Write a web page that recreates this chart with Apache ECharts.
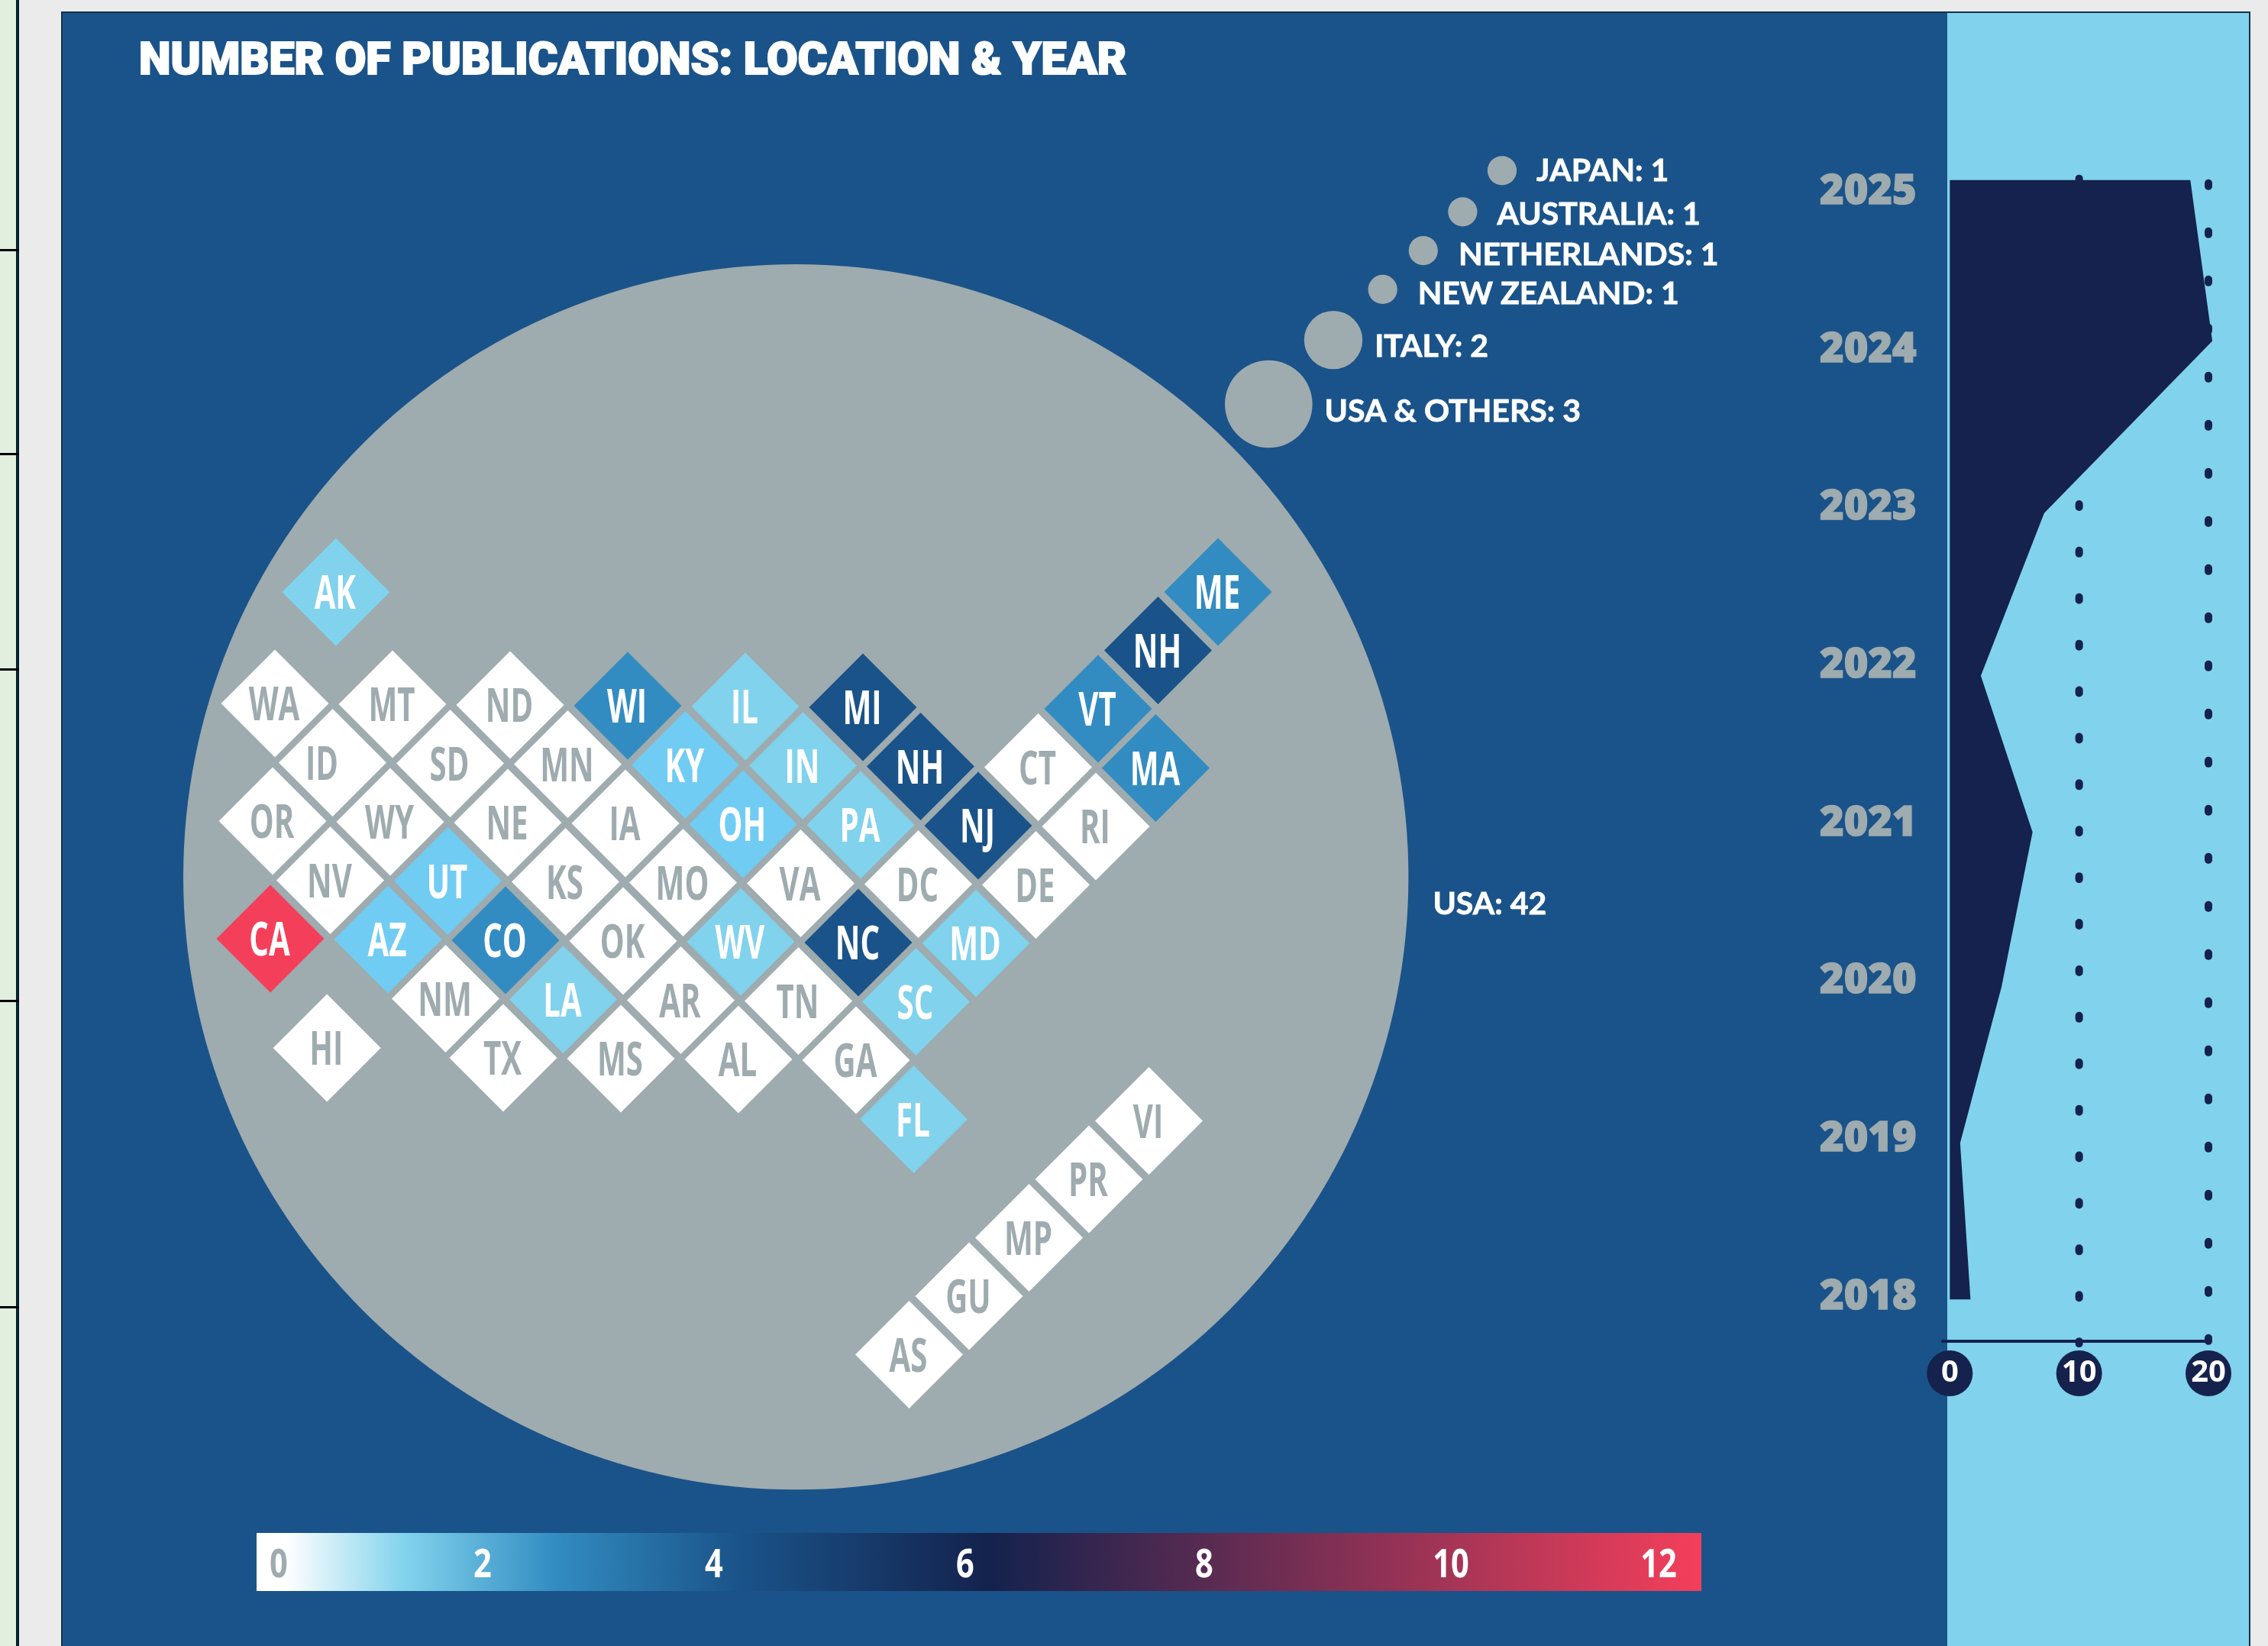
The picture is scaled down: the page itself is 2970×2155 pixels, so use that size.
<!DOCTYPE html>
<html>
<head>
<meta charset="utf-8">
<style>
  html, body { margin: 0; padding: 0; background: #ebebeb; }
  #main { width: 2970px; height: 2155px; }
</style>
<script src="https://cdn.jsdelivr.net/npm/echarts@6/dist/echarts.min.js"></script>
</head>
<body>
<div id="main"></div>
<script>
// tile map: state, publications, lattice column and row
var stateNames = ['AK','WA','MT','ND','WI','IL','MI','VT','ID','SD','MN','KY','IN','NH','CT','MA',
  'OR','WY','NE','IA','OH','PA','NJ','RI','NV','UT','KS','MO','VA','DC','DE',
  'CA','AZ','CO','OK','WV','NC','MD','NM','LA','AR','TN','SC','HI','TX','MS','AL','GA','FL',
  'NH','ME','VI','PR','MP','GU','AS'];
var stateCounts = [1,0,0,0,3,1,4,3,0,0,0,2,1,4,0,3,
  0,0,0,0,2,1,4,0,0,2,0,0,0,0,0,
  12,2,3,0,1,4,1,0,1,0,0,1,0,0,0,0,0,1,
  4,3,0,0,0,0,0];
var stateCols = [1,0,2,4,6,8,10,14,1,3,5,7,9,11,13,15,
  0,2,4,6,8,10,12,14,1,3,5,7,9,11,13,
  0,2,4,6,8,10,12,3,5,7,9,11,1,4,6,8,10,11,
  15,16,15,14,13,12,11];
var stateRows = [-1.9,0,0,0,0,0,0,0,1,1,1,1,1,1,1,1,
  2,2,2,2,2,2,2,2,3,3,3,3,3,3,3,
  4,4,4,4,4,4,4,5,5,5,5,5,5.85,6,6,6,6,7,
  -1,-2,7,8,9,10,11];

// other countries and the USA, diameter goes with the count
var placeNames = ['USA','JAPAN','AUSTRALIA','NETHERLANDS','NEW ZEALAND','ITALY','USA & OTHERS'];
var placeCounts = [42,1,1,1,1,2,3];
var placeCols = [8.86,20.87,20.2,19.53,18.84,18.0,16.9];
var placeRows = [2.95,-9.06,-8.36,-7.7,-7.04,-6.18,-5.09];

// publications per year
var yearTicks = [2018,2019,2020,2021,2022,2023,2024,2025];
var pubYears = [2025.05,2024.03,2022.94,2021.91,2020.92,2019.94,2018.95,2017.96];
var pubCounts = [18.6,20.3,7.3,2.4,6.4,4.0,0.8,1.6];
var countTicks = [0,10,20];

var legendTicks = [0,2,4,6,8,10,12];

var NAVY = '#1a5389', SKY = '#81d2ec', DARK = '#14224d', GREY = '#9eabaf', RED = '#f43f5b';
var TILT_X = 0.0195, TILT_Y = 0.0065;
var DIAMETER = 38.2;

var labelGaps = [32,26,26,27,27,16,16];
var labelDrops = [36,0,4,6,6,9,10];
var legendTickX = [365,632,935,1264,1577,1900,2172];

var tiles = stateNames.map(function (name, i) {
  return {
    name: name,
    value: [stateCols[i] - TILT_X * stateRows[i], stateRows[i] + TILT_Y * stateCols[i], stateCounts[i]]
  };
});

var places = placeNames.map(function (name, i) {
  return {
    name: name,
    value: [placeCols[i], placeRows[i], placeCounts[i]],
    label: {distance: labelGaps[i], offset: [0, labelDrops[i]]}
  };
});

var backdrop = [
  {type: 'rect', z: -10, shape: {x: 0, y: 0, width: 21, height: 2155}, style: {fill: '#e2efdf'}},
  {type: 'rect', z: -9, shape: {x: 21, y: 0, width: 4, height: 2155}, style: {fill: '#04202c'}},
  {type: 'rect', z: -10, shape: {x: 81, y: 16, width: 2469, height: 2145}, style: {fill: NAVY}},
  {type: 'rect', z: -10, shape: {x: 2550, y: 16, width: 396, height: 2145}, style: {fill: SKY}},
  {type: 'rect', z: -9, shape: {x: 81, y: 16, width: 2865, height: 2145}, style: {fill: 'none', stroke: '#12344a', lineWidth: 2}},
  {
    type: 'rect', z: 1,
    shape: {x: 336, y: 2007, width: 1892, height: 76},
    style: {
      fill: new echarts.graphic.LinearGradient(0, 0, 1, 0, [
        {offset: 0.02, color: '#ffffff'},
        {offset: 0.103, color: SKY},
        {offset: 0.207, color: '#328cc1'},
        {offset: 0.334, color: NAVY},
        {offset: 0.507, color: DARK},
        {offset: 1, color: RED}
      ])
    }
  }
];
[326,593,875,1309,1710].forEach(function (y) {
  backdrop.push({type: 'rect', z: -9, shape: {x: 0, y: y, width: 25, height: 3}, style: {fill: '#000'}});
});
legendTicks.forEach(function (t, i) {
  backdrop.push({
    type: 'text', z: 5, x: legendTickX[i], y: 2050, scaleX: 0.8,
    style: {
      text: String(t),
      fill: i === 0 ? GREY : '#fff',
      font: '700 52px "Open Sans"',
      textAlign: 'center', textVerticalAlign: 'middle'
    }
  });
});

var chart = echarts.init(document.getElementById('main'));
chart.setOption({
  animation: false,
  backgroundColor: '#ebebeb',
  title: {
    text: 'NUMBER OF PUBLICATIONS: LOCATION & YEAR',
    left: 182, top: 53,
    padding: 0,
    textStyle: {color: '#fff', fontFamily: 'Roboto', fontWeight: 900, fontSize: 59, textBorderColor: '#fff', textBorderWidth: 2}
  },
  graphic: {elements: backdrop},
  grid: [
    {left: 52, top: 74, width: 2618, height: 2002},
    {left: 2544, top: 226, width: 348, height: 1530}
  ],
  xAxis: [
    {gridIndex: 0, type: 'value', min: -4, max: 30, show: false},
    {
      gridIndex: 1, type: 'value', min: -0.55, max: 20,
      splitLine: {show: false},
      axisTick: {show: false},
      axisLine: {show: true, lineStyle: {color: DARK, width: 4}},
      axisLabel: {
        customValues: countTicks,
        margin: 11,
        formatter: function (v) { return '{dot|' + v + '}'; },
        rich: {
          dot: {
            width: 60, height: 60, lineHeight: 62, align: 'center',
            backgroundColor: DARK, borderRadius: 30,
            color: '#fff', fontFamily: 'Open Sans', fontWeight: 700, fontSize: 40
          }
        }
      }
    }
  ],
  yAxis: [
    {gridIndex: 0, type: 'value', inverse: true, min: -11, max: 15, show: false},
    {
      gridIndex: 1, type: 'value', min: 2017.695, max: 2025.097,
      splitLine: {show: false},
      axisTick: {show: false},
      axisLine: {show: false},
      axisLabel: {
        customValues: yearTicks,
        align: 'left',
        verticalAlign: 'top',
        lineHeight: 11,
        margin: 161,
        color: GREY,
        fontFamily: 'Open Sans', fontWeight: 800, fontSize: 54,
        textBorderColor: GREY, textBorderWidth: 1.5,
        formatter: function (v) { return String(v); }
      }
    }
  ],
  visualMap: {
    type: 'piecewise', show: false, seriesIndex: 1, dimension: 2,
    pieces: [
      {value: 0, color: '#ffffff'},
      {value: 1, color: SKY},
      {value: 2, color: '#70ccf3'},
      {value: 3, color: '#328cc1'},
      {value: 4, color: NAVY},
      {value: 12, color: RED}
    ]
  },
  series: [
    {
      type: 'scatter', name: 'places', xAxisIndex: 0, yAxisIndex: 0, z: 2,
      clip: false,
      data: places,
      symbolSize: function (v) { return v[2] * DIAMETER; },
      itemStyle: {color: GREY, opacity: 1},
      label: {
        show: true, position: 'right', color: '#fff',
        fontFamily: 'Lato', fontWeight: 700, fontSize: 41,
        textBorderColor: '#fff', textBorderWidth: 0.8,
        formatter: function (p) { return p.name + ': ' + p.value[2]; }
      }
    },
    {
      type: 'scatter', name: 'states', xAxisIndex: 0, yAxisIndex: 0, z: 3,
      clip: false,
      data: tiles,
      symbol: 'diamond',
      symbolSize: 141,
      itemStyle: {opacity: 1}
    },
    // state codes are squeezed sideways, no narrow font is installed
    {
      type: 'custom', name: 'stateCodes', xAxisIndex: 0, yAxisIndex: 0, z: 4,
      clip: false,
      data: tiles,
      encode: {x: 0, y: 1},
      renderItem: function (params, api) {
        var i = params.dataIndex;
        var p = api.coord([api.value(0), api.value(1)]);
        return {
          type: 'text',
          x: p[0] - (stateNames[i] === 'ID' ? 14 : 1),
          y: p[1] + 5,
          scaleX: 0.67,
          style: {
            text: stateNames[i],
            fill: stateCounts[i] === 0 ? GREY : '#fff',
            font: '700 60px "Open Sans"',
            textAlign: 'center',
            textVerticalAlign: 'middle'
          }
        };
      }
    },
    {
      type: 'line', xAxisIndex: 1, yAxisIndex: 1, z: 2, symbol: 'none', clip: false,
      data: [[10, 2025.06], [10, 2017.68]],
      lineStyle: {color: DARK, width: 10, cap: 'round', type: [4, 56.9]}
    },
    {
      type: 'line', xAxisIndex: 1, yAxisIndex: 1, z: 2, symbol: 'none', clip: false,
      data: [[20, 2025.03], [20, 2017.68]],
      lineStyle: {color: DARK, width: 10, cap: 'round', type: [4, 59]}
    },
    {
      type: 'custom', xAxisIndex: 1, yAxisIndex: 1, z: 3,
      data: pubCounts.map(function (c, i) { return [c, pubYears[i]]; }),
      encode: {x: 0, y: 1},
      renderItem: function (params, api) {
        if (params.dataIndex !== 0) return null;
        var last = pubYears.length - 1;
        var pts = [api.coord([0, pubYears[0]])];
        pubCounts.forEach(function (c, i) { pts.push(api.coord([c, pubYears[i]])); });
        pts.push(api.coord([0, pubYears[last]]));
        return {type: 'polygon', shape: {points: pts}, style: {fill: DARK}};
      }
    }
  ]
});
</script>
</body>
</html>
